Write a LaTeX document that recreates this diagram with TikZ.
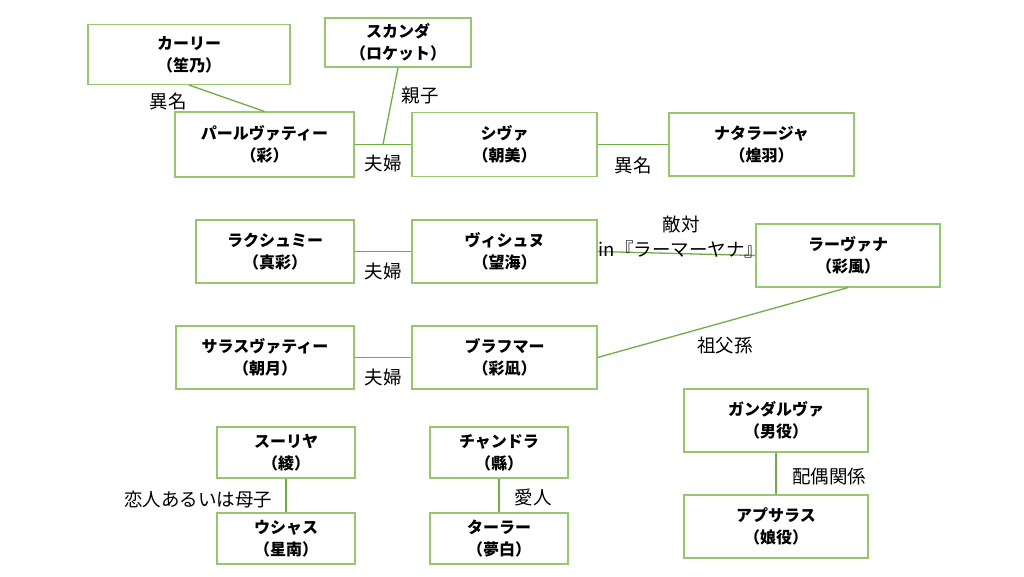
\documentclass[tikz,border=0pt]{standalone}
\usepackage{fontspec}
\newfontfamily\jp{Noto Sans CJK JP}
\definecolor{boxgreen}{RGB}{150,198,110}
\definecolor{linegreen}{RGB}{112,173,71}
\tikzset{
	person/.style={draw=boxgreen, line width=1.1pt, align=center, inner sep=0pt,
		font=\jp\bfseries\fontsize{16}{22}\selectfont},
	rel/.style={font=\jp\fontsize{18.5}{25}\selectfont, align=center, inner sep=0pt},
	link/.style={draw=linegreen, line width=1.3pt}
}
\begin{document}
\begin{tikzpicture}[x=1pt, y=-1pt]
	\useasboundingbox[fill=white] (0, 0) rectangle (1024, 576);

	\node[person, minimum width=202pt, minimum height=60pt] (kali)		at (189, 54.5)	{カーリー\\（笙乃）};
	\node[person, minimum width=146pt, minimum height=49pt] (skanda)	at (398, 42.5)	{スカンダ\\（ロケット）};
	\node[person, minimum width=179pt, minimum height=65pt] (parvati)	at (264.5, 144.5)	{パールヴァティー\\（彩）};
	\node[person, minimum width=185pt, minimum height=64pt] (shiva)		at (504.5, 144.5)	{シヴァ\\（朝美）};
	\node[person, minimum width=185pt, minimum height=63pt] (nataraja)	at (761.5, 144.5)	{ナタラージャ\\（煌羽）};
	\node[person, minimum width=158pt, minimum height=63pt] (lakshmi)	at (275, 251.5)	{ラクシュミー\\（真彩）};
	\node[person, minimum width=185pt, minimum height=63pt] (vishnu)	at (504.5, 251.5)	{ヴィシュヌ\\（望海）};
	\node[person, minimum width=184pt, minimum height=63pt] (ravana)	at (848, 255.5)	{ラーヴァナ\\（彩風）};
	\node[person, minimum width=178pt, minimum height=63pt] (saraswati)	at (265, 357.5)	{サラスヴァティー\\（朝月）};
	\node[person, minimum width=185pt, minimum height=63pt] (brahma)	at (504.5, 357.5)	{ブラフマー\\（彩凪）};
	\node[person, minimum width=184pt, minimum height=63pt] (gandharva)	at (776, 420.5)	{ガンダルヴァ\\（男役）};
	\node[person, minimum width=184pt, minimum height=63pt] (apsaras)	at (776, 526.5)	{アプサラス\\（娘役）};
	\node[person, minimum width=138pt, minimum height=51pt] (surya)		at (286, 452.5)	{スーリヤ\\（綾）};
	\node[person, minimum width=138pt, minimum height=51pt] (ushas)		at (286, 538.5)	{ウシャス\\（星南）};
	\node[person, minimum width=138pt, minimum height=51pt] (chandra)	at (499, 452.5)	{チャンドラ\\（縣）};
	\node[person, minimum width=138pt, minimum height=51pt] (tara)		at (499, 538.5)	{ターラー\\（夢白）};

	\draw[link]	(kali.south) -- (parvati.north);
	\draw[link]	(parvati.east) -- coordinate (couple) (shiva.west);
	\draw[link]	(skanda.south) -- (couple);
	\draw[link]	(shiva.east) -- (nataraja.west);
	\draw[link]	(lakshmi.east) -- (vishnu.west);
	\draw[link]	(vishnu.east) -- (ravana.west);
	\draw[link]	(saraswati.east) -- (brahma.west);
	\draw[link]	(brahma.east) -- (ravana.south);
	\draw[link]	(gandharva.south) -- (apsaras.north);
	\draw[link]	(surya.south) -- (ushas.north);
	\draw[link]	(chandra.south) -- (tara.north);

	\node[rel] (alias1)	at (168, 101)	{異名};
	\node[rel] (parent)	at (420, 96)	{親子};
	\node[rel] (wed1)	at (383, 163)	{夫婦};
	\node[rel] (alias2)	at (633, 165)	{異名};
	\node[rel] (enemy)	at (681, 237.5)	{敵対\\in『ラーマーヤナ』};
	\node[rel] (wed2)	at (383, 271)	{夫婦};
	\node[rel] (wed3)	at (383, 377)	{夫婦};
	\node[rel] (grand)	at (725, 345)	{祖父孫};
	\node[rel] (spouse)	at (829, 477)	{配偶関係};
	\node[rel] (lover)	at (198, 499)	{恋人あるいは母子};
	\node[rel] (affair)	at (533, 497)	{愛人};
\end{tikzpicture}
\end{document}
